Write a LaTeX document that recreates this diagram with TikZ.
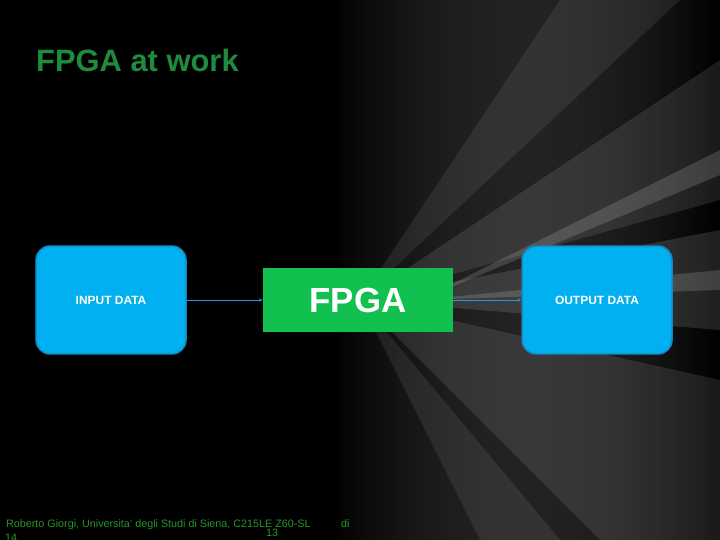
\documentclass[tikz,border=0pt]{standalone}
\usepackage{fontspec}
\setmainfont{Liberation Sans}
\usetikzlibrary{arrows.meta,fadings}
\definecolor{boxblue}{RGB}{0,176,240}
\definecolor{boxedge}{RGB}{30,130,190}
\definecolor{fpgagreen}{RGB}{18,192,80}
\definecolor{titlegreen}{RGB}{30,140,60}
\definecolor{footgreen}{RGB}{40,150,40}
\definecolor{arrowblue}{RGB}{40,150,215}
\tikzset{
  databox/.style={draw=boxedge, line width=1.5pt, fill=boxblue, rounded corners=14bp,
    minimum width=150bp, minimum height=108bp, inner sep=0pt, text=white,
    font=\fontsize{12}{14}\selectfont\bfseries},
  fpgabox/.style={fill=fpgagreen, minimum width=190bp, minimum height=63bp, inner sep=0pt,
    text=white, font=\fontsize{35}{40}\selectfont\bfseries},
  conn/.style={draw=arrowblue, line width=0.8pt, -{Stealth[length=4bp,width=3bp]}},
  foot/.style={text=footgreen, font=\fontsize{10.8}{12}\selectfont, inner sep=0pt, anchor=base west}
}
\begin{document}
\begin{tikzpicture}[x=1bp,y=-1bp]
\useasboundingbox (0,0) rectangle (720,540);
\fill[black] (0,0) rectangle (720,540);
% light tunnel background
\begin{scope}
\clip (0,0) rectangle (720,540);
\shade[left color=black, right color=gray!80, path fading=east, fill opacity=0.9] (330,0) rectangle (720,540);
\fill[white, opacity=0.10] (360,300) -- (720,60) -- (720,200) -- cycle;
\fill[white, opacity=0.12] (360,300) -- (720,230) -- (720,330) -- cycle;
\fill[white, opacity=0.10] (360,300) -- (720,380) -- (720,540) -- (600,540) -- cycle;
\fill[white, opacity=0.08] (360,300) -- (560,0) -- (680,0) -- cycle;
\fill[white, opacity=0.08] (360,300) -- (480,540) -- (560,540) -- cycle;
\fill[white, opacity=0.15] (420,300) -- (720,150) -- (720,175) -- cycle;
\fill[white, opacity=0.15] (420,300) -- (720,270) -- (720,290) -- cycle;
\end{scope}
\node[anchor=base west, text=titlegreen, font=\fontsize{31}{36}\selectfont\bfseries, inner sep=0pt] (title) at (36,72) {FPGA at work};
\node[databox] (in) at (111,300) {INPUT DATA};
\node[fpgabox] (fpga) at (358,300) {FPGA};
\node[databox] (out) at (597,300) {OUTPUT DATA};
\draw[conn] (in.east) -- (fpga.west);
\draw[conn] (fpga.east) -- (out.west);
\node[foot] (f1) at (6,527) {Roberto Giorgi, Universita' degli Studi di Siena, C215LE Z60-SL};
\node[foot] (f2) at (266,536) {13};
\node[foot] (f3) at (341,527) {di};
\node[foot] (f4) at (5,541) {14};
\end{tikzpicture}
\end{document}
